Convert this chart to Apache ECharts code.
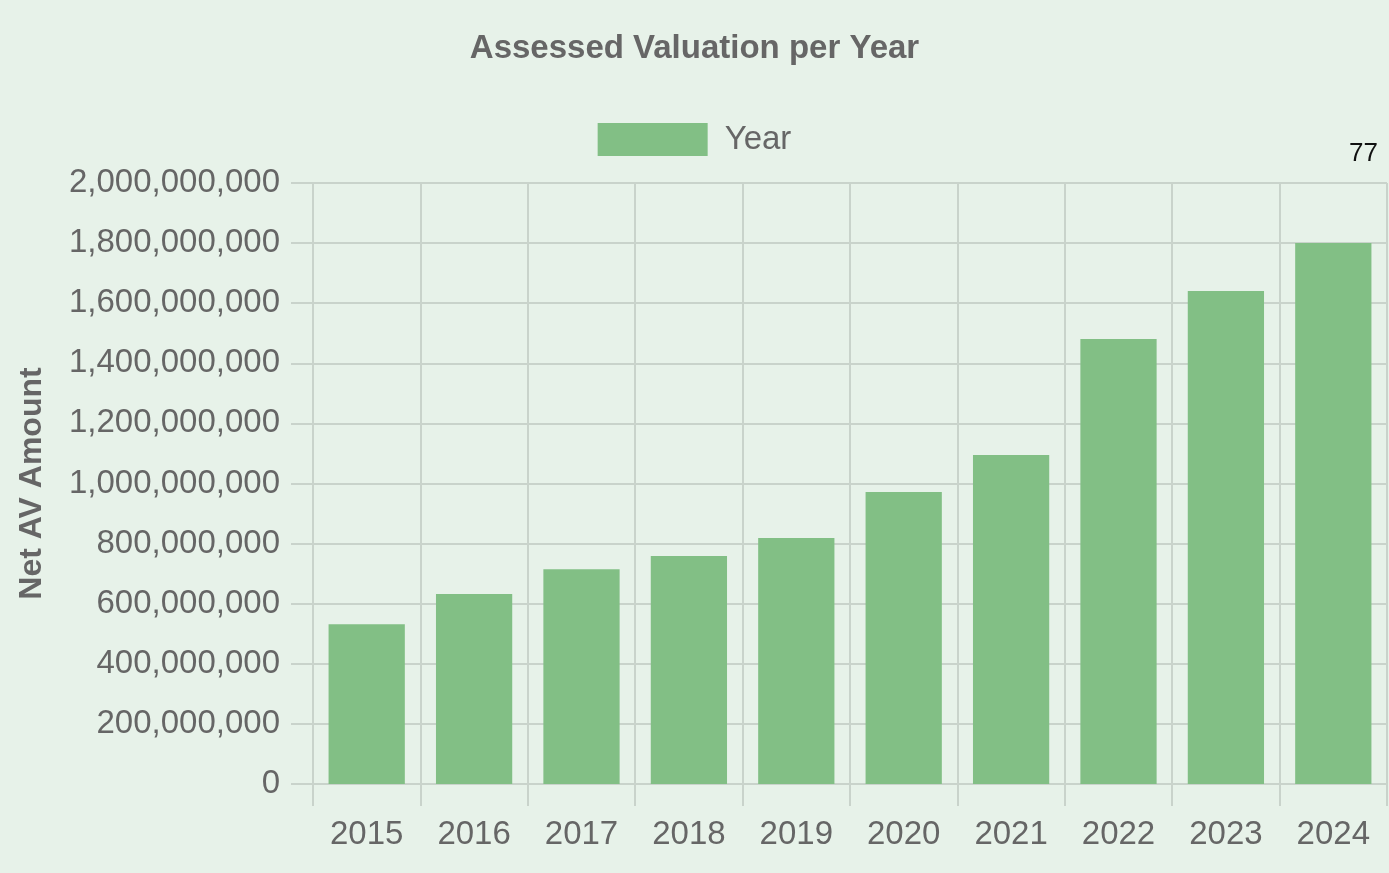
<!DOCTYPE html>
<html>
<head>
<meta charset="utf-8">
<script src="https://cdn.jsdelivr.net/npm/echarts@6/dist/echarts.min.js"></script>
<style>
  html, body { margin: 0; padding: 0; background: #e7f2e9; }
  #chart { width: 1389px; height: 873px; }
</style>
</head>
<body>
<div id="chart"></div>
<script>
// values
const years = ["2015", "2016", "2017", "2018", "2019", "2020", "2021", "2022", "2023", "2024"];
const netAv = [532e6, 632e6, 715e6, 759e6, 819e6, 972e6, 1095e6, 1481e6, 1641e6, 1800e6];
const seriesName = "Year";

const font = "Liberation Sans, Arial, sans-serif";
const grey = "#666666";
const gridColor = "#c9d3cb";

const chart = echarts.init(document.getElementById("chart"));

chart.setOption({
	backgroundColor: "#e7f2e9",
	animation: false,
	textStyle: { fontFamily: font },
	title: {
		text: "Assessed Valuation per Year",
		left: "center",
		top: 27,
		textStyle: { fontFamily: font, fontSize: 33, fontWeight: "bold", color: grey },
	},
	graphic: [
		{
			type: "text",
			right: 11,
			top: 141,
			style: { text: "77", font: "26px " + font, fill: "#111" },
		},
	],
	legend: {
		data: [seriesName],
		top: 118,
		left: "center",
		itemWidth: 110,
		itemHeight: 33,
		icon: "rect",
		textStyle: { fontFamily: font, fontSize: 33, color: grey, padding: [0, 0, 0, 12] },
	},
	grid: {
		left: 313, right: 2, top: 183, bottom: 89,
		containLabel: false,
		outerBoundsMode: "none",
	},
	xAxis: {
		type: "category",
		data: years,
		boundaryGap: true,
		axisLine: { show: true, lineStyle: { color: gridColor, width: 2 } },
		axisTick: { show: true, length: 22, lineStyle: { color: gridColor, width: 2 } },
		splitLine: { show: true, lineStyle: { color: gridColor, width: 2 } },
		axisLabel: { color: grey, fontSize: 33, fontFamily: font, margin: 34 },
	},
	yAxis: {
		type: "value",
		min: 0,
		max: 2000000000,
		interval: 200000000,
		name: "Net AV Amount",
		nameLocation: "middle",
		nameRotate: 90,
		nameGap: 265,
		nameTextStyle: { fontFamily: font, fontSize: 32, fontWeight: "bold", color: grey },
		axisLine: { show: true, lineStyle: { color: gridColor, width: 2 } },
		axisTick: { show: true, length: 22, lineStyle: { color: gridColor, width: 2 } },
		splitLine: { show: true, lineStyle: { color: gridColor, width: 2 } },
		axisLabel: {
			color: grey,
			fontSize: 33,
			fontFamily: font,
			margin: 33,
			formatter: (v) => v.toLocaleString("en-US"),
		},
	},
	series: [
		{
			name: seriesName,
			type: "bar",
			data: netAv,
			barCategoryGap: "29%",
			itemStyle: { color: "#82bf85" },
		},
	],
});
</script>
</body>
</html>
